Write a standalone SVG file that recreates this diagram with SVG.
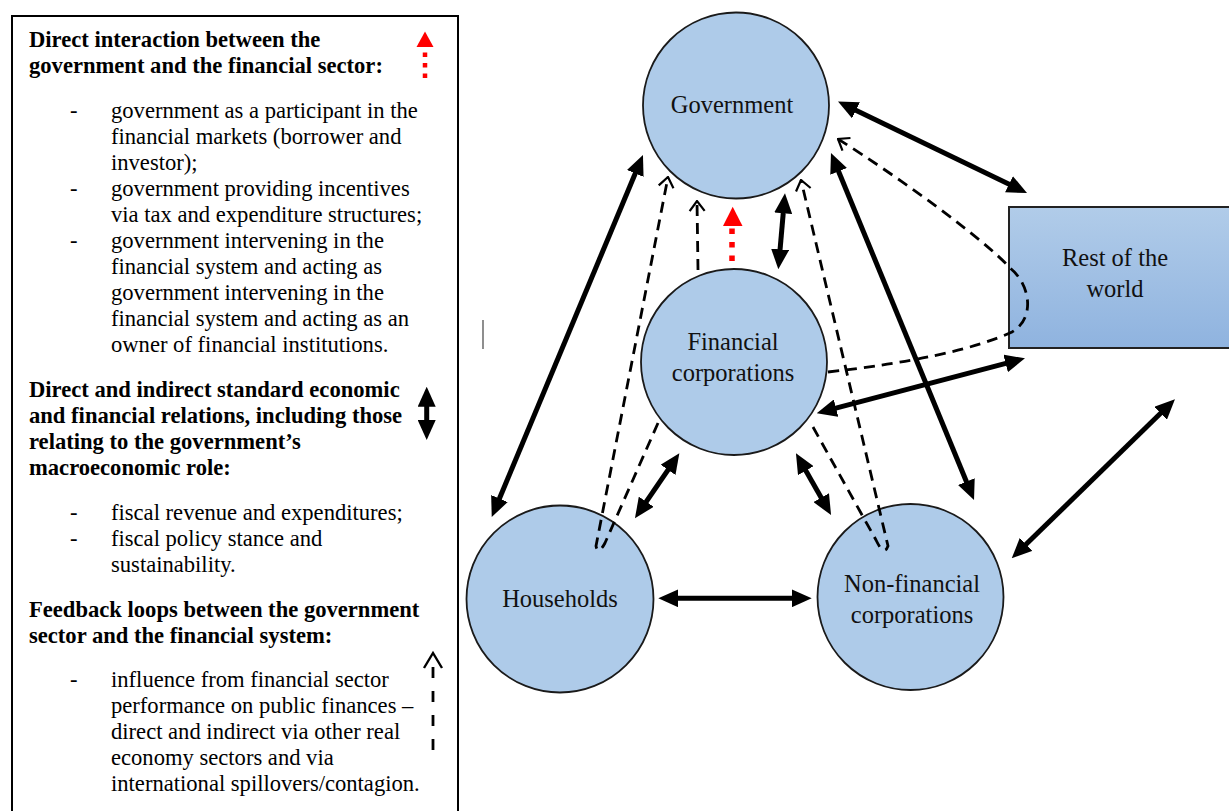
<svg xmlns="http://www.w3.org/2000/svg" width="1229" height="811" viewBox="0 0 1229 811">
<style>
.lg{font-family:"Liberation Serif","Times New Roman",serif;font-size:22.6px;fill:#000}
.b{font-weight:bold}
.nl{font-family:"Liberation Serif","Times New Roman",serif;font-size:24.5px;fill:#111;text-anchor:middle}
.node{fill:#aecbe9;stroke:#1a1a1a;stroke-width:1.8}
.thick{stroke:#000;stroke-width:5;fill:none;marker-start:url(#ah);marker-end:url(#ah)}
.dash{stroke:#000;stroke-width:2.8;fill:none;stroke-dasharray:11 7}
</style>
<defs>
<marker id="ah" viewBox="0 0 20 18" refX="10" refY="9" markerWidth="20" markerHeight="18" markerUnits="userSpaceOnUse" orient="auto-start-reverse"><path d="M0,0 L20,9 L0,18 z" fill="#000"/></marker>
<marker id="oh" viewBox="0 0 12 18" refX="11" refY="9" markerWidth="12" markerHeight="18" markerUnits="userSpaceOnUse" orient="auto"><path d="M1,1.5 L11,9 L1,16.5" fill="none" stroke="#000" stroke-width="2.2"/></marker>
<linearGradient id="rw" x1="0" y1="0" x2="0" y2="1"><stop offset="0" stop-color="#b1cce9"/><stop offset="1" stop-color="#8fb3df"/></linearGradient>
</defs>
<rect width="1229" height="811" fill="#fff"/>

<g id="legend">
<rect x="12" y="16" width="446" height="820" fill="#fff" stroke="#000" stroke-width="2"/>
<text class="lg b" x="29" y="47">Direct interaction between the</text>
<text class="lg b" x="29" y="73">government and the financial sector:</text>
<text class="lg" x="70" y="118">-</text>
<text class="lg" x="111" y="118">government as a participant in the</text>
<text class="lg" x="111" y="144">financial markets (borrower and</text>
<text class="lg" x="111" y="170">investor);</text>
<text class="lg" x="70" y="196">-</text>
<text class="lg" x="111" y="196">government providing incentives</text>
<text class="lg" x="111" y="222">via tax and expenditure structures;</text>
<text class="lg" x="70" y="248">-</text>
<text class="lg" x="111" y="248">government intervening in the</text>
<text class="lg" x="111" y="274">financial system and acting as</text>
<text class="lg" x="111" y="300">government intervening in the</text>
<text class="lg" x="111" y="326">financial system and acting as an</text>
<text class="lg" x="111" y="352">owner of financial institutions.</text>
<text class="lg b" x="29" y="397">Direct and indirect standard economic</text>
<text class="lg b" x="29" y="423">and financial relations, including those</text>
<text class="lg b" x="29" y="449">relating to the government’s</text>
<text class="lg b" x="29" y="475">macroeconomic role:</text>
<text class="lg" x="70" y="520">-</text>
<text class="lg" x="111" y="520">fiscal revenue and expenditures;</text>
<text class="lg" x="70" y="546">-</text>
<text class="lg" x="111" y="546">fiscal policy stance and</text>
<text class="lg" x="111" y="572">sustainability.</text>
<text class="lg b" x="29" y="617">Feedback loops between the government</text>
<text class="lg b" x="29" y="643">sector and the financial system:</text>
<text class="lg" x="70" y="687">-</text>
<text class="lg" x="111" y="687">influence from financial sector</text>
<text class="lg" x="111" y="713">performance on public finances –</text>
<text class="lg" x="111" y="739">direct and indirect via other real</text>
<text class="lg" x="111" y="765">economy sectors and via</text>
<text class="lg" x="111" y="791">international spillovers/contagion.</text>
<path d="M425,78 L425,51" stroke="#f00" stroke-width="4.5" stroke-dasharray="4.5 6"/>
<path d="M425,31.5 L416.5,47 L433.5,47 z" fill="#f00"/>
<path d="M426.7,396.7 L426.7,430" class="thick"/>
<path d="M433,750 L433,655" stroke="#000" stroke-width="2.8" stroke-dasharray="11 13"/>
<path d="M424,668 L433,653 L442,668" fill="none" stroke="#000" stroke-width="2.4"/>
</g>

<line x1="483" y1="320" x2="483" y2="349" stroke="#444" stroke-width="1.2"/>

<g id="node-government">
<circle class="node" cx="736" cy="105.5" r="93"/>
<text class="nl" x="732" y="113">Government</text>
</g>
<g id="node-financial">
<circle class="node" cx="734" cy="362" r="93"/>
<text class="nl" x="733" y="350">Financial</text>
<text class="nl" x="733" y="381">corporations</text>
</g>
<g id="node-households">
<circle class="node" cx="560" cy="599" r="93.5"/>
<text class="nl" x="560" y="607">Households</text>
</g>
<g id="node-nonfinancial">
<circle class="node" cx="910.5" cy="597" r="93"/>
<text class="nl" x="912" y="592">Non-financial</text>
<text class="nl" x="912" y="623">corporations</text>
</g>
<g id="node-rest">
<rect x="1009" y="207" width="230" height="141" fill="url(#rw)" stroke="#222" stroke-width="2"/>
<text class="nl" x="1115" y="266">Rest of the</text>
<text class="nl" x="1115" y="297">world</text>
</g>

<g id="connectors">
<path class="thick" d="M639.1,164.2 L495.6,507.8"/>
<path class="thick" d="M847,105.9 L1018,188.6"/>
<path class="thick" d="M834.8,162.2 L970.2,490.8"/>
<path class="thick" d="M784.1,203.3 L779.2,259.3"/>
<path class="thick" d="M826.4,410.7 L1015.3,360.9"/>
<path class="thick" d="M673.7,461.6 L640.6,510"/>
<path class="thick" d="M800.9,462 L826.1,506.3"/>
<path class="thick" d="M668.3,598.3 L801.7,598.3"/>
<path class="thick" d="M1018.9,551.3 L1167.8,406.3"/>

<path class="dash" d="M658,423 L605,543 Q598,556 596,546 L668,177" marker-end="url(#oh)"/>
<path class="dash" d="M698,270 L697,201" marker-end="url(#oh)"/>
<path class="dash" d="M813,427 L876,540 Q884,557 888,546 L801,180" marker-end="url(#oh)"/>
<path class="dash" d="M828,372 Q955,358 1012,332 C1036,318 1030,284 1010,268 C985,240 900,178 838,139" marker-end="url(#oh)"/>

<path d="M732,261 L732,228" stroke="#f00" stroke-width="5.5" stroke-dasharray="5.5 8"/>
<path d="M732.7,206.7 L723,226 L742.5,226 z" fill="#f00"/>
</g>
</svg>
